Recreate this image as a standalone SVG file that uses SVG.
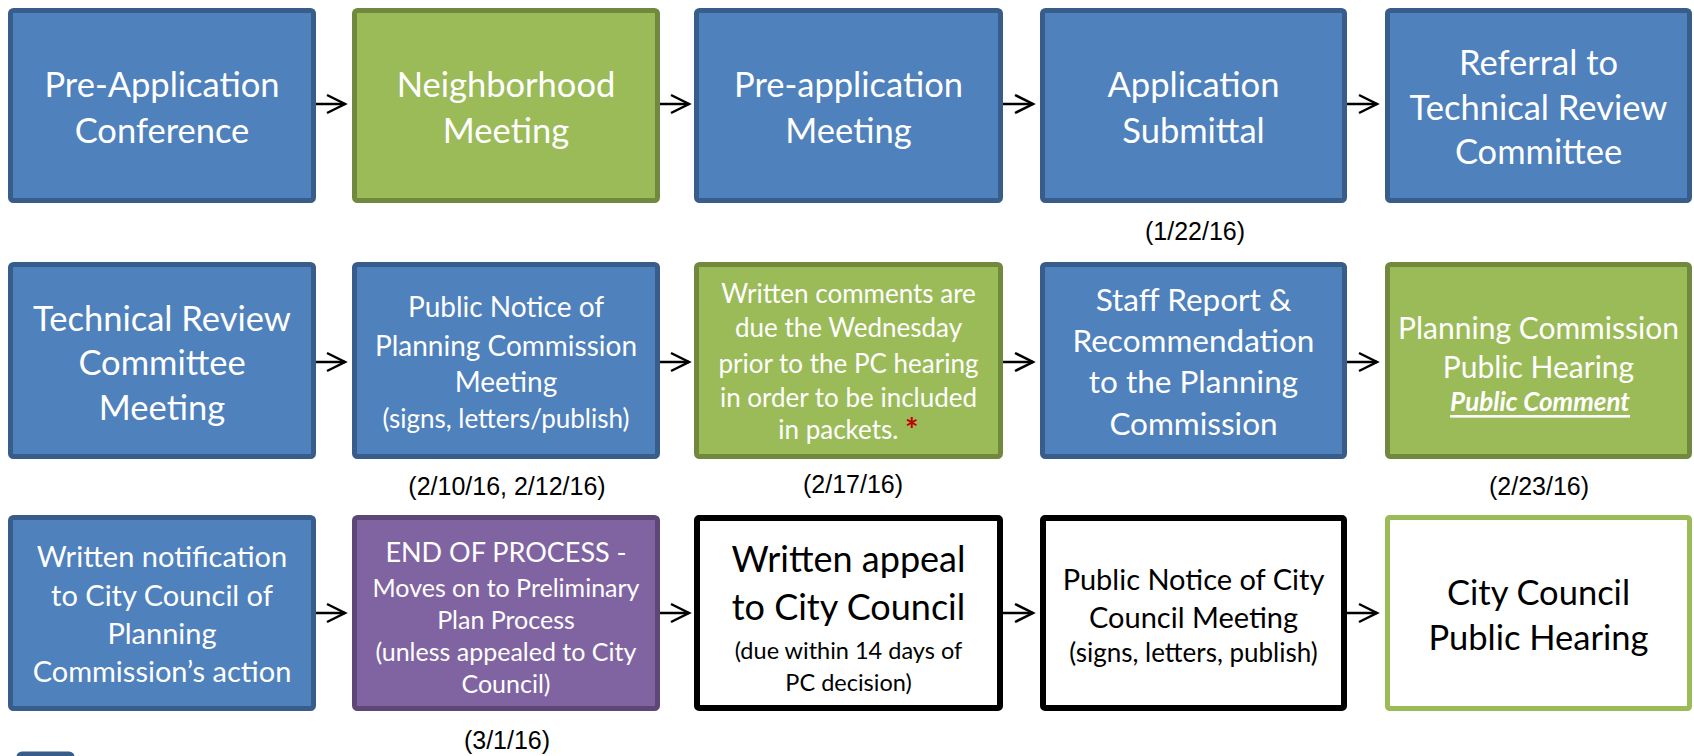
<svg xmlns="http://www.w3.org/2000/svg" width="1694" height="756" viewBox="0 0 1694 756">
<style>
.blue{fill:#4F81BD;stroke:#385D8A;stroke-width:5}
.green{fill:#9BBB59;stroke:#71893F;stroke-width:5}
.purple{fill:#8064A2;stroke:#5C4776;stroke-width:5}
.wblack{fill:#FFFFFF;stroke:#000000;stroke-width:6}
.wgreen{fill:#FFFFFF;stroke:#9BBB59;stroke-width:5}
text{font-family:Lato,"Open Sans","Liberation Sans",sans-serif;text-anchor:middle;dominant-baseline:central}
.w{fill:#FFFFFF}
.k{fill:#000000}
.date{font-family:"Liberation Sans",Arial,sans-serif;font-size:25px;fill:#000000;dominant-baseline:alphabetic}
.conn line{stroke:#000000;stroke-width:2.5;marker-end:url(#arr)}
</style>
<defs>
<marker id="arr" markerUnits="userSpaceOnUse" markerWidth="20" markerHeight="20" viewBox="0 0 20 20" refX="18" refY="10" orient="auto" overflow="visible">
<path d="M0,1 L18,10 L0,19" fill="none" stroke="#000000" stroke-width="2.5"/>
</marker>
</defs>
<rect width="1694" height="756" fill="#FFFFFF"/>

<g id="n1">
<rect class="blue" x="10.5" y="10.5" width="303" height="190" rx="3"/>
<text class="w" font-size="34.5"><tspan x="162" y="83">Pre-Application</tspan><tspan x="162" y="129">Conference</tspan></text>
</g>
<g id="n2">
<rect class="green" x="354.5" y="10.5" width="303" height="190" rx="3"/>
<text class="w" font-size="34.5"><tspan x="506" y="83">Neighborhood</tspan><tspan x="506" y="129">Meeting</tspan></text>
</g>
<g id="n3">
<rect class="blue" x="696.5" y="10.5" width="304" height="190" rx="3"/>
<text class="w" font-size="34.5"><tspan x="848.5" y="83">Pre-application</tspan><tspan x="848.5" y="129">Meeting</tspan></text>
</g>
<g id="n4">
<rect class="blue" x="1042.5" y="10.5" width="302" height="190" rx="3"/>
<text class="w" font-size="34.5"><tspan x="1193.5" y="83">Application</tspan><tspan x="1193.5" y="129">Submittal</tspan></text>
<text class="date" x="1195" y="240">(1/22/16)</text>
</g>
<g id="n5">
<rect class="blue" x="1387.5" y="10.5" width="302" height="190" rx="3"/>
<text class="w" font-size="34.5"><tspan x="1538.5" y="61">Referral to</tspan><tspan x="1538.5" y="106">Technical Review</tspan><tspan x="1538.5" y="150">Committee</tspan></text>
</g>

<g id="n6">
<rect class="blue" x="10.5" y="264.5" width="303" height="192" rx="3"/>
<text class="w" font-size="34.5"><tspan x="162" y="317">Technical Review</tspan><tspan x="162" y="361">Committee</tspan><tspan x="162" y="406">Meeting</tspan></text>
</g>
<g id="n7">
<rect class="blue" x="354.5" y="264.5" width="303" height="192" rx="3"/>
<text class="w" font-size="28"><tspan x="506" y="306">Public Notice of</tspan><tspan x="506" y="345">Planning Commission</tspan><tspan x="506" y="381">Meeting</tspan><tspan x="506" y="418" font-size="26">(signs, letters/publish)</tspan></text>
<text class="date" x="507" y="495">(2/10/16, 2/12/16)</text>
</g>
<g id="n8">
<rect class="green" x="696.5" y="264.5" width="304" height="192" rx="3"/>
<text class="w" font-size="26"><tspan x="848.5" y="293">Written comments are</tspan><tspan x="848.5" y="327">due the Wednesday</tspan><tspan x="848.5" y="363">prior to the PC hearing</tspan><tspan x="848.5" y="397">in order to be included</tspan><tspan x="848.5" y="429">in packets. <tspan fill="#C00000" font-weight="bold" font-size="32">*</tspan></tspan></text>
<text class="date" x="853" y="493">(2/17/16)</text>
</g>
<g id="n9">
<rect class="blue" x="1042.5" y="264.5" width="302" height="192" rx="3"/>
<text class="w" font-size="31.5"><tspan x="1193.5" y="299">Staff Report &amp;</tspan><tspan x="1193.5" y="340">Recommendation</tspan><tspan x="1193.5" y="381">to the Planning</tspan><tspan x="1193.5" y="423">Commission</tspan></text>
</g>
<g id="n10">
<rect class="green" x="1387.5" y="264.5" width="302" height="192" rx="3"/>
<text class="w" font-size="30"><tspan x="1538.5" y="327">Planning Commission</tspan><tspan x="1538.5" y="366">Public Hearing</tspan></text>
<text class="w" x="1540" y="401" font-size="26" font-weight="bold" font-style="italic" text-decoration="underline">Public Comment</text>
<text class="date" x="1539" y="495">(2/23/16)</text>
</g>

<g id="n11">
<rect class="blue" x="10.5" y="517.5" width="303" height="191" rx="3"/>
<text class="w" font-size="29"><tspan x="162" y="555">Written notification</tspan><tspan x="162" y="594">to City Council of</tspan><tspan x="162" y="632">Planning</tspan><tspan x="162" y="670">Commission’s action</tspan></text>
</g>
<g id="n12">
<rect class="purple" x="354.5" y="517.5" width="303" height="191" rx="3"/>
<text class="w" font-size="25"><tspan x="506" y="551" font-size="27">END OF PROCESS -</tspan><tspan x="506" y="587">Moves on to Preliminary</tspan><tspan x="506" y="619">Plan Process</tspan><tspan x="506" y="651">(unless appealed to City</tspan><tspan x="506" y="683">Council)</tspan></text>
<text class="date" x="507" y="749">(3/1/16)</text>
</g>
<g id="n13">
<rect class="wblack" x="697" y="518" width="303" height="190" rx="2"/>
<text class="k" font-size="36"><tspan x="848.5" y="558">Written appeal</tspan><tspan x="848.5" y="606">to City Council</tspan></text>
<text class="k" font-size="23.5"><tspan x="848.5" y="650">(due within 14 days of</tspan><tspan x="848.5" y="682">PC decision)</tspan></text>
</g>
<g id="n14">
<rect class="wblack" x="1043" y="518" width="301" height="190" rx="2"/>
<text class="k" font-size="29"><tspan x="1193.5" y="578">Public Notice of City</tspan><tspan x="1193.5" y="616">Council Meeting</tspan><tspan x="1193.5" y="652" font-size="26">(signs, letters, publish)</tspan></text>
</g>
<g id="n15">
<rect class="wgreen" x="1387.5" y="517.5" width="302" height="191" rx="2"/>
<text class="k" font-size="34.5"><tspan x="1538.5" y="591">City Council</tspan><tspan x="1538.5" y="636">Public Hearing</tspan></text>
</g>

<g id="legend">
<rect class="blue" x="19" y="754" width="53" height="20" rx="3" stroke-width="3"/>
</g>

<g id="connectors" class="conn">
<line x1="316" y1="104" x2="345" y2="104"/>
<line x1="660" y1="104" x2="689" y2="104"/>
<line x1="1003" y1="104" x2="1033" y2="104"/>
<line x1="1347" y1="104" x2="1377" y2="104"/>
<line x1="316" y1="362" x2="345" y2="362"/>
<line x1="660" y1="362" x2="689" y2="362"/>
<line x1="1003" y1="362" x2="1033" y2="362"/>
<line x1="1347" y1="362" x2="1377" y2="362"/>
<line x1="316" y1="613" x2="345" y2="613"/>
<line x1="660" y1="613" x2="689" y2="613"/>
<line x1="1003" y1="613" x2="1033" y2="613"/>
<line x1="1347" y1="613" x2="1377" y2="613"/>
</g>
</svg>
